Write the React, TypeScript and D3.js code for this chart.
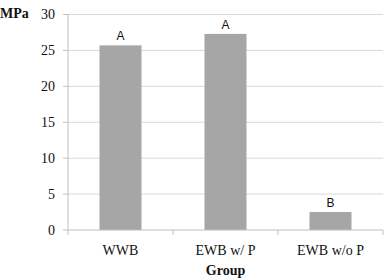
import React from "react";
import * as d3 from "d3";

const groups = ["WWB", "EWB w/ P", "EWB w/o P"];
const mpa = [25.7, 27.3, 2.5];
const letters = ["A", "A", "B"];
const yTicks = [0, 5, 10, 15, 20, 25, 30];

const W = 385;
const H = 280;
const left = 68;
const right = 383;
const top = 14.5;
const bottom = 230;

export default function App() {
  const x = d3.scaleBand().domain(groups).range([left, right]).paddingInner(0.6).paddingOuter(0.3);
  const y = d3.scaleLinear().domain([0, 30]).range([bottom, top]);
  const step = x.step();
  const serif = "'Liberation Serif', 'Times New Roman', serif";

  return (
    <svg width={W} height={H} style={{ position: "absolute", left: 0, top: 0, background: "#fff" }}>
      {/* gridlines */}
      {yTicks.filter((t) => t > 0).map((t) => (
        <line key={t} x1={left} x2={right} y1={y(t)} y2={y(t)} stroke="#d9d9d9" strokeWidth={1} />
      ))}
      {/* bars */}
      {groups.map((g, i) => (
        <g key={g}>
          <rect x={x(g)} y={y(mpa[i])} width={x.bandwidth()} height={bottom - y(mpa[i])} fill="#a6a6a6" />
          <text x={x(g)! + x.bandwidth() / 2} y={y(mpa[i]) - 5} textAnchor="middle"
            fontFamily="'Liberation Sans', Arial, sans-serif" fontSize={12} fill="#111">{letters[i]}</text>
        </g>
      ))}
      {/* axes */}
      <line x1={left} x2={left} y1={top} y2={bottom} stroke="#bfbfbf" />
      <line x1={left} x2={right} y1={bottom} y2={bottom} stroke="#bfbfbf" />
      {yTicks.map((t) => (
        <g key={t}>
          <line x1={left - 5} x2={left} y1={y(t)} y2={y(t)} stroke="#bfbfbf" />
          <text x={55} y={y(t)} dy="0.35em" textAnchor="end" fontFamily={serif} fontSize={14} fill="#111">{t}</text>
        </g>
      ))}
      {d3.range(groups.length + 1).map((i) => (
        <line key={i} x1={left + i * step} x2={left + i * step} y1={bottom} y2={bottom + 5} stroke="#bfbfbf" />
      ))}
      {groups.map((g) => (
        <text key={g} x={x(g)! + x.bandwidth() / 2} y={250} dy="0.35em" textAnchor="middle"
          fontFamily={serif} fontSize={14} fill="#111">{g}</text>
      ))}
      <text x={(left + right) / 2} y={270} dy="0.35em" textAnchor="middle" fontFamily={serif}
        fontSize={14} fontWeight="bold" fill="#111">Group</text>
      <text x={0} y={13} dy="0.35em" textAnchor="start" fontFamily={serif}
        fontSize={14} fontWeight="bold" fill="#111">MPa</text>
    </svg>
  );
}
